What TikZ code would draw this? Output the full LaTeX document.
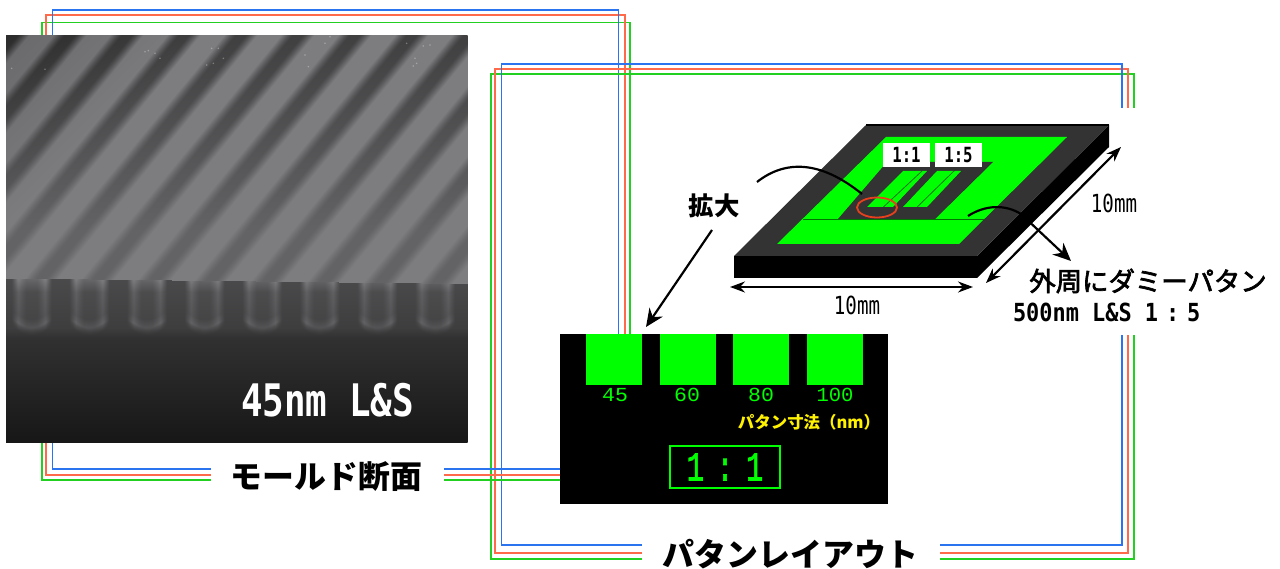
\documentclass[tikz,border=0pt]{standalone}
\usepackage{fontspec}
\usepackage{graphicx}
\usetikzlibrary{arrows.meta,shapes.geometric}
\setmainfont{Noto Sans CJK JP}
\newfontfamily\jp{Noto Sans CJK JP}
\newfontfamily\jpm[FakeBold=2.5]{Noto Sans CJK JP}
\newfontfamily\dmono{DejaVu Sans Mono}
\newfontfamily\lmono{Liberation Mono}
\newfontfamily\lmonob[FakeBold=2]{Liberation Mono}
\definecolor{lnblue}{HTML}{2A74F0}
\definecolor{lnred}{HTML}{FF6A4A}
\definecolor{lngreen}{HTML}{22D022}
\definecolor{chipgray}{HTML}{333333}
\definecolor{ringred}{HTML}{E8401C}
\def\CL{dup 0 lt {pop 0} if dup 1 gt {pop 1} if }
\pgfdeclarefunctionalshading{semphoto}{\pgfpointorigin}{\pgfpoint{462bp}{407bp}}{}{
  407 exch sub
  2 copy exch .012 mul 243 add ge
  {
    exch 26 sub 360 mul 57.6 div cos exch
    243 sub
    dup 164 exch sub 102 div .10 mul .09 add
    1 index 60 exch sub 10 div \CL .04 mul add
    2 index 6 mul 52 add 2 index sub 8 div \CL
    3 index .6 add .6 div \CL
    4 index .14 sub abs .7 div 1 exch sub \CL
    4 index .0008 mul .09 exch sub
    mul
    4 index 14 div 1 exch sub \CL .1 mul .02 add
    5 index 7 index 5 mul 44 add sub abs 8 div 1 exch sub \CL .06 mul add
    2 index mul
    add
    exch pop
    mul add
    3 1 roll pop pop
  }
  {
    2 copy .82 mul add
    7 sub 360 mul 57 div cos
    .25 add 1.1 div \CL
    1 index 200 div 1 exch sub \CL .14 mul .1 add
    mul
    3 1 roll
    add 200 div 1 exch sub \CL .08 mul .49 exch sub
    exch sub
  } ifelse
  dup dup 1.02 mul
}
\tikzset{
  lb/.style={draw=lnblue,line width=1.3pt},
  lr/.style={draw=lnred,line width=1.6pt},
  lg/.style={draw=lngreen,line width=1.4pt},
  txt/.style={inner sep=0pt,outer sep=0pt,text=black},
  bigarrow/.style={line width=2.2pt,-{Stealth[length=18pt,width=16pt]}},
  dimarrow/.style={line width=2.2pt,{Stealth[length=15pt,width=11pt]}-{Stealth[length=15pt,width=11pt]}},
  sq/.style={fill=green,draw=none,minimum width=56bp,minimum height=51bp,inner sep=0pt,anchor=north west},
  tag/.style={fill=white,inner sep=0pt,minimum width=47bp,minimum height=24bp,font=\dmono\bfseries\fontsize{21}{23}\selectfont},
  num/.style={inner sep=0pt,text=green,font=\lmono\fontsize{20}{22}\selectfont}
}
\begin{document}
\begin{tikzpicture}[x=1bp,y=-1bp]
\useasboundingbox (0,0) rectangle (1280,569);
\fill[white] (0,0) rectangle (1280,569);

% coloured frames, first set
\coordinate (a1) at (211,469);\coordinate (a2) at (211,475);\coordinate (a3) at (211,480);
\coordinate (b1) at (444,469);\coordinate (b2) at (444,475);\coordinate (b3) at (444,480);
\coordinate (c1) at (618.7,334);\coordinate (c2) at (624.7,334);\coordinate (c3) at (630,334);
\draw[lg] (a3) -| (42,22.5) -| (c3);
\draw[lr] (a2) -| (46,15) -| (c2);
\draw[lb] (a1) -| (52.5,10) -| (c1);

% coloured frames, second set
\coordinate (d1) at (642,545);\coordinate (d2) at (642,553);\coordinate (d3) at (642,559);
\coordinate (e1) at (1122,108);\coordinate (e2) at (1128,108);\coordinate (e3) at (1134,108);
\coordinate (f1) at (1122,335);\coordinate (f2) at (1128,335);\coordinate (f3) at (1134,335);
\coordinate (g1) at (940,545);\coordinate (g2) at (940,553);\coordinate (g3) at (940,559);
\draw[lg] (d3) -| (491,74) -| (e3);
\draw[lr] (d2) -| (495,69) -| (e2);
\draw[lb] (d1) -| (501.3,64) -| (e1);
\draw[lg] (f3) |- (g3);
\draw[lr] (f2) |- (g2);
\draw[lb] (f1) |- (g1);

% panel
\node[fill=black,inner sep=0pt,minimum width=328bp,minimum height=170bp,anchor=north west] (panel) at (560,334) {};
\draw[lb] (b1) -- (b1 -| panel.west);
\draw[lr] (b2) -- (b2 -| panel.west);
\draw[lg] (b3) -- (b3 -| panel.west);
\node[sq] (s45) at (586,334) {};
\node[sq] (s60) at (660,334) {};
\node[sq] (s80) at (733,334) {};
\node[sq] (s100) at (807,334) {};
\node[num] at (615,395) {\scalebox{1.08}[1]{45}};
\node[num] at (687,395) {\scalebox{1.08}[1]{60}};
\node[num] at (761,395) {\scalebox{1.08}[1]{80}};
\node[num] at (835,395) {\scalebox{1.03}[1]{100}};
\node[inner sep=0pt,text=yellow,font=\jp\bfseries\fontsize{16.5}{20}\selectfont] (sizelabel) at (809,422) {パタン寸法（nm）};
\node[draw=green,line width=2pt,inner sep=0pt,minimum width=110bp,minimum height=42bp,text=green,font=\lmonob\fontsize{41}{44}\selectfont] (ratio) at (725,467) {\scalebox{.7}[1]{1\kern18pt:\kern18pt1}};

% photograph
\node[inner sep=0pt,outer sep=0pt,anchor=north west] (photo) at (5.5,35) {\pgfuseshading{semphoto}};
\foreach \px/\py in {435/65,445/62,465/70,480/85,655/55,635/55,670/85,620/105,640/100,915/75,925/110,975/40,990/20,1220/40,1290/45,1270/48,1245/85,1240/108,1250/100,35/115,135/118}
  \fill[white,opacity=.3] (\px/3,30+\py/3) circle (.9);
\node[inner sep=0pt,text=white,font=\dmono\bfseries\fontsize{45}{48}\selectfont] (cap) at (327.5,400) {\scalebox{.8}[1]{45nm L\&S}};

% chip
\fill[black] (734,256) -- (977,256) -- (1109,125) -- (1109,147) -- (977,278) -- (734,278) -- cycle;
\fill[chipgray] (866,125) -- (1109,125) -- (977,256) -- (734,256) -- cycle;
\draw[black,line width=1.6pt] (866,125) -- (1109,125);
\fill[green] (886,137) -- (1067,137) -- (959,244) -- (777,244) -- cycle;
\fill[chipgray] (887,162) -- (993,162) -- (935,219) -- (838,219) -- cycle;
\draw[black!55!green,line width=.5pt] (803,219) -- (984,219);
\fill[green] (903,171) -- (927,171) -- (893,207) -- (867,207) -- cycle;
\fill[green] (937,171) -- (961,171) -- (927,207) -- (903,207) -- cycle;
\draw[chipgray,opacity=.7,line width=.8pt] (922,171) -- (877,213);
\draw[chipgray,opacity=.7,line width=.8pt] (957,168) -- (910,214);
\node[tag] (t11) at (906.5,155) {\scalebox{.75}[1]{1:1}};
\node[tag] (t15) at (958.5,155) {\scalebox{.75}[1]{1:5}};
\node[draw=ringred,line width=1.8pt,ellipse,inner sep=0pt,minimum width=40bp,minimum height=20bp] (ring) at (877,207.5) {};

% labels
\node[txt,font=\jp\bfseries\fontsize{25.5}{28}\selectfont] (kakudai) at (714,206) {拡大};
\node[txt,font=\jpm\fontsize{26.5}{30}\selectfont] (gaishu) at (1148,281) {外周にダミーパタン};
\node[txt,font=\dmono\bfseries\fontsize{25}{28}\selectfont,anchor=west] (dummy) at (1013,312) {\scalebox{.88}[1]{500nm L\&S 1\kern9pt:\kern9pt5}};
\node[txt,font=\dmono\fontsize{25}{28}\selectfont] (dimx) at (857,305) {\scalebox{.77}[1]{10mm}};
\node[txt,font=\dmono\fontsize{25}{28}\selectfont] (dimy) at (1114,203) {\scalebox{.77}[1]{10mm}};
\node[txt,font=\jp\bfseries\fontsize{32}{35}\selectfont] (mold) at (326.5,477) {モールド断面};
\node[txt,font=\jp\bfseries\fontsize{32}{36}\selectfont] (layout) at (790.5,554) {パタンレイアウト};

% connectors
\coordinate (k1) at (712,230);\coordinate (k2) at (646,327);
\draw[bigarrow] (k1) -- (k2);
\coordinate (cu1) at (757,182);\coordinate (cu2) at (862,194);
\draw[black,line width=2.2pt] (cu1) .. controls (785,160) and (820,160) .. (cu2);
\coordinate (cv1) at (968,216);\coordinate (cv2) at (1021,214);\coordinate (cv3) at (1071,261);
\draw[bigarrow] (cv1) .. controls (985,205) and (1005,204) .. (cv2) -- (cv3);
\coordinate (hx1) at (730,287);\coordinate (hx2) at (973,287);
\draw[dimarrow] (hx1) -- (hx2);
\coordinate (hy1) at (986,283);\coordinate (hy2) at (1121,147);
\draw[dimarrow] (hy1) -- (hy2);
\end{tikzpicture}
\end{document}
